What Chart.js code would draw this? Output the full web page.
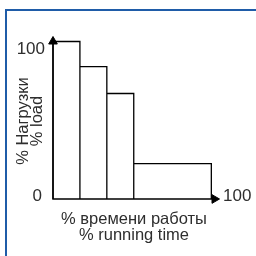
<!DOCTYPE html>
<html>
<head>
<meta charset="utf-8">
<script src="https://cdn.jsdelivr.net/npm/chart.js@4/dist/chart.umd.min.js"></script>
<style>
html,body{margin:0;padding:0;background:#fff;width:256px;height:256px;overflow:hidden;}
#frame{position:absolute;left:5px;top:9px;width:300px;height:300px;border:2px solid #1f5ca8;box-sizing:border-box;}
#wrap{position:absolute;left:0;top:0;width:256px;height:256px;}
</style>
</head>
<body>
<div id="frame"></div>
<div id="wrap"><canvas id="c" width="256" height="256"></canvas></div>
<script>
// Data
const timeEdges = [0, 17, 34, 51, 100];      // % running time (bar boundaries)
const loadLevels = [100, 84, 67, 22.5];       // % load for each interval
const xAxisEnd = 102;                         // end of the x axis arrow
const yAxisEnd = 100;                         // end of the y axis arrow
const xTickLabels = ['100'];
const yTickLabels = ['0', '100'];
const xTitle = ['% времени работы', '% running time'];
const yTitle = ['% Нагрузки', '% load'];

// Build step outline from data
const outline = [{x: timeEdges[0], y: 0}];
for (let i = 0; i < loadLevels.length; i++) {
  outline.push({x: timeEdges[i], y: loadLevels[i]});
  outline.push({x: timeEdges[i + 1], y: loadLevels[i]});
  outline.push({x: timeEdges[i + 1], y: 0});
}
const axesLine = [{x: 0, y: yAxisEnd}, {x: 0, y: 0}, {x: xAxisEnd, y: 0}];
const arrowPts = [{x: 0, y: yAxisEnd}, {x: xAxisEnd, y: 0}];

const FONT = '"Liberation Sans", Arial, sans-serif';
const INK = '#2e2e2e';

const labels = {
  id: 'labels',
  afterDraw(chart) {
    const ctx = chart.ctx;
    const xs = chart.scales.x, ys = chart.scales.y;
    const x0 = xs.getPixelForValue(0), y0 = ys.getPixelForValue(0);
    const xEnd = xs.getPixelForValue(xAxisEnd);
    const yTop = ys.getPixelForValue(100);
    ctx.save();
    ctx.fillStyle = INK;
    ctx.font = '17px ' + FONT;
    ctx.textBaseline = 'alphabetic';
    ctx.textAlign = 'right';
    ctx.fillText(yTickLabels[0], x0 - 11, y0 + 1.5);
    ctx.fillText(yTickLabels[1], x0 - 8, yTop + 12);
    ctx.textAlign = 'left';
    ctx.fillText(xTickLabels[0], xEnd + 8.5, y0 + 1.5);
    // x title
    ctx.font = '16.5px ' + FONT;
    ctx.textAlign = 'center';
    const cx = 134;
    ctx.fillText(xTitle[0], cx, y0 + 25);
    ctx.fillText(xTitle[1], cx, y0 + 41);
    // y title
    ctx.translate(0, 121);
    ctx.rotate(-Math.PI / 2);
    ctx.fillText(yTitle[0], 0, 27.5);
    ctx.fillText(yTitle[1], 0, 41.5);
    ctx.restore();
  }
};

new Chart(document.getElementById('c'), {
  type: 'scatter',
  data: {
    datasets: [{
      data: axesLine,
      showLine: true,
      borderColor: '#000',
      borderWidth: 1.5,
      pointRadius: 0,
      fill: false,
      tension: 0,
      clip: false
    }, {
      data: outline,
      showLine: true,
      borderColor: '#000',
      borderWidth: 1.3,
      pointRadius: 0,
      fill: false,
      tension: 0,
      clip: false
    }, {
      data: arrowPts,
      showLine: false,
      pointStyle: 'triangle',
      pointRadius: 5,
      pointRotation: [0, 90],
      pointBackgroundColor: '#000',
      pointBorderColor: '#000',
      pointBorderWidth: 1,
      clip: false
    }]
  },
  options: {
    responsive: false,
    animation: false,
    devicePixelRatio: 1,
    layout: {padding: {left: 53, top: 41.5, right: 41.5, bottom: 57}},
    plugins: {legend: {display: false}, tooltip: {enabled: false}},
    scales: {
      x: {type: 'linear', min: 0, max: xAxisEnd, display: false},
      y: {type: 'linear', min: 0, max: yAxisEnd, display: false}
    }
  },
  plugins: [labels]
});
</script>
</body>
</html>
